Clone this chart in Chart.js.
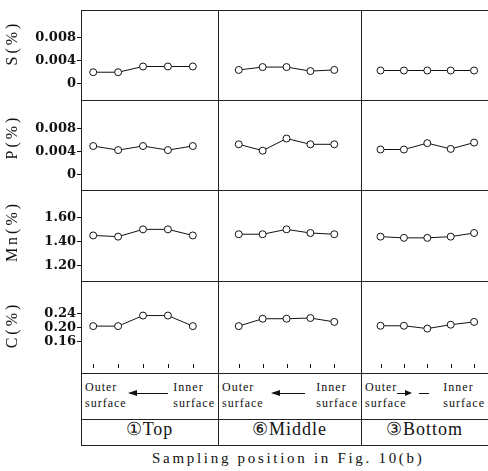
<!DOCTYPE html>
<html>
<head>
<meta charset="utf-8">
<script src="https://cdn.jsdelivr.net/npm/chart.js@4.4.0/dist/chart.umd.min.js"></script>
<style>
body{margin:0;width:488px;height:471px;position:relative;overflow:hidden;background:#fff;color:#111;font-family:'Liberation Serif',serif}
canvas,.h,.v,.txt,.arrow{position:absolute}
.h{height:1px;background:#222}
.v{width:1px;background:#222}
.txt{font-family:'Liberation Serif',serif;font-size:12px;letter-spacing:1px;line-height:16px;white-space:nowrap}
.sec{font-size:18px;letter-spacing:1px;text-align:center;width:120px}
.arrow{height:1px;background:#111}
.arrow.left:before{content:'';position:absolute;left:-2px;top:-3px;border-top:3.5px solid transparent;border-bottom:3.5px solid transparent;border-right:9px solid #111}
.arrow.right:before{content:'';position:absolute;right:-2px;top:-3px;border-top:3.5px solid transparent;border-bottom:3.5px solid transparent;border-left:7px solid #111}
#caption{position:absolute;left:152px;top:450px;font-size:15px;letter-spacing:2.7px;white-space:nowrap}
</style>
</head>
<body>
<div id="caption">Sampling position in Fig. 10(b)</div>
<script>
// sampling positions, outer surface -> inner surface
var samplePoints=[1,2,3,4,5]
var sections=['①Top','⑥Middle','③Bottom']
var elements=['S(%)','P(%)','Mn(%)','C(%)']

var sTicks=[0,0.004,0.008]
var sTickLabels=['0','0.004','0.008']
var pTicks=[0,0.004,0.008]
var pTickLabels=['0','0.004','0.008']
var mnTicks=[1.20,1.40,1.60]
var mnTickLabels=['1.20','1.40','1.60']
var cTicks=[0.16,0.20,0.24]
var cTickLabels=['0.16','0.20','0.24']

var S_top=[0.002,0.002,0.003,0.003,0.003]
var S_middle=[0.0024,0.0029,0.0029,0.0022,0.0024]
var S_bottom=[0.0023,0.0023,0.0023,0.0023,0.0023]
var P_top=[0.005,0.0043,0.005,0.0043,0.005]
var P_middle=[0.0053,0.0042,0.0063,0.0053,0.0053]
var P_bottom=[0.0044,0.0044,0.0055,0.0045,0.0056]
var Mn_top=[1.45,1.44,1.50,1.50,1.45]
var Mn_middle=[1.46,1.46,1.50,1.47,1.46]
var Mn_bottom=[1.44,1.43,1.43,1.44,1.47]
var C_top=[0.204,0.204,0.234,0.234,0.204]
var C_middle=[0.204,0.225,0.225,0.227,0.216]
var C_bottom=[0.205,0.205,0.197,0.208,0.216]

var rows=[
  {ticks:sTicks,labels:sTickLabels,data:[S_top,S_middle,S_bottom],min:-0.00197,max:0.01198,titleShift:-12},
  {ticks:pTicks,labels:pTickLabels,data:[P_top,P_middle,P_bottom],min:-0.00174,max:0.0121,titleShift:-8},
  {ticks:mnTicks,labels:mnTickLabels,data:[Mn_top,Mn_middle,Mn_bottom],min:1.116,max:1.783,titleShift:-4},
  {ticks:cTicks,labels:cTickLabels,data:[C_top,C_middle,C_bottom],min:0.085,max:0.318,titleShift:-2}
]
var rowTop=[10,100,190,281,373]
var colLeft=[81,218,361,488]
var xRange=[[0.51,5.81],[0.34,5.91],[0.38,5.38]]

function line(cls,l,t,len){
  var d=document.createElement('div')
  d.className=cls
  d.style.left=l+'px'
  d.style.top=t+'px'
  if(cls=='h') d.style.width=len+'px'
  else d.style.height=len+'px'
  document.body.appendChild(d)
}
function text(html,cls,l,t,extra){
  var d=document.createElement('div')
  d.className='txt '+(cls||'')
  d.innerHTML=html
  d.style.left=l+'px'
  d.style.top=t+'px'
  if(extra) for(var k in extra) d.style[k]=extra[k]
  document.body.appendChild(d)
}
function arrow(dir,l,w){
  var a=document.createElement('div')
  a.className='arrow '+dir
  a.style.left=l+'px'; a.style.top='393px'; a.style.width=w+'px'
  document.body.appendChild(a)
}

// frame
;[10,100,190,281,373,419,445].forEach(function(y){ line('h',81,y,407) })
;[81,218,361].forEach(function(x){ line('v',x,10,436) })

// labels under the axis
for(var c=0;c<3;c++){
  var l=colLeft[c], r=colLeft[c+1]
  text('Outer<br>surface','',l+4,379)
  text('Inner<br>surface','',0,379,{left:'auto',right:(488-r+3)+'px'})
  text(sections[c],'sec',(l+r)/2-60,421)
}
arrow('left',130,38)
arrow('left',273,32)
arrow('right',397,13)
arrow('',419,10)

// upward ticks on the bottom axis
var bottomTicks={
  id:'bottomTicks',
  afterDatasetsDraw:function(chart,args,opts){
    if(!opts.show) return
    var ctx=chart.ctx, xs=chart.scales.x, b=chart.chartArea.bottom
    ctx.save()
    ctx.strokeStyle='#111'; ctx.lineWidth=1
    samplePoints.forEach(function(p){
      var x=Math.round(xs.getPixelForValue(p))+0.5
      ctx.beginPath(); ctx.moveTo(x,b); ctx.lineTo(x,b-4); ctx.stroke()
    })
    ctx.restore()
  }
}

rows.forEach(function(row,ri){
  for(var c=0;c<3;c++){
    var cv=document.createElement('canvas')
    var left=c==0?0:colLeft[c]
    var w=colLeft[c+1]-left, h=rowTop[ri+1]-rowTop[ri]
    cv.width=w; cv.height=h
    cv.style.left=left+'px'; cv.style.top=rowTop[ri]+'px'
    document.body.appendChild(cv)
    var vals=row.data[c]
    var pts=samplePoints.map(function(p,i){ return {x:p,y:vals[i]} })
    var yAxis={
      min:row.min,max:row.max,display:c==0
    }
    if(c==0){
      (function(row,ri){
        yAxis.border={display:false}
        yAxis.grid={drawOnChartArea:false,drawTicks:true,tickLength:4,color:'#111'}
        yAxis.ticks={padding:1,color:'#111',font:{family:'DejaVu Serif',size:13,weight:'bold'},
          callback:function(v,i){ return row.labels[i] }}
        yAxis.title={display:true,text:elements[ri],color:'#111',padding:{top:3,bottom:0},
          font:{family:'Liberation Serif',size:16}}
        yAxis.afterBuildTicks=function(s){ s.ticks=row.ticks.map(function(v){return {value:v}}) }
        yAxis.afterFit=function(s){
          s.width=81; s.paddingTop=0; s.paddingBottom=0
          if(!s._spaced){
            // spaced-out axis title like the printed figure
            var draw=s.drawTitle
            s.drawTitle=function(){
              this.ctx.save()
              this.ctx.letterSpacing='3px'
              this.ctx.translate(0,row.titleShift)
              draw.apply(this,arguments)
              this.ctx.restore()
            }
            s._spaced=true
          }
        }
      })(row,ri)
    }
    new Chart(cv,{
      type:'line',
      data:{datasets:[{
        data:pts,
        borderColor:'#111',borderWidth:1,
        pointRadius:3.5,pointBackgroundColor:'#fff',pointBorderColor:'#111',pointBorderWidth:1,
        clip:false
      }]},
      options:{
        responsive:false,animation:false,
        layout:{padding:0},
        plugins:{legend:{display:false},tooltip:{enabled:false},bottomTicks:{show:ri==3}},
        scales:{
          x:{type:'linear',min:xRange[c][0],max:xRange[c][1],display:false},
          y:yAxis
        }
      },
      plugins:[bottomTicks]
    })
  }
})
</script>
</body>
</html>
